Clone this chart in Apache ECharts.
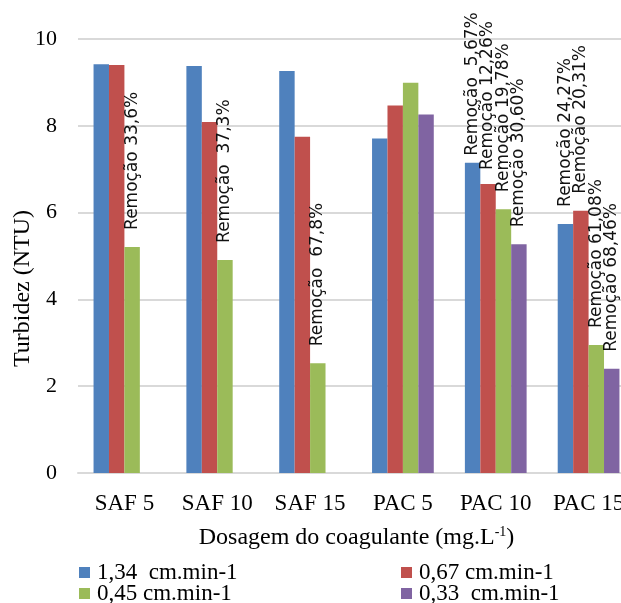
<!DOCTYPE html>
<html><head><meta charset="utf-8">
<script src="https://cdn.jsdelivr.net/npm/echarts@6/dist/echarts.min.js"></script>
<style>html,body{margin:0;padding:0;background:#fff}#c{width:621px;height:603px}</style>
</head><body><div id="c"></div>
<script>
const categories = ['SAF 5', 'SAF 10', 'SAF 15', 'PAC 5', 'PAC 10', 'PAC 15'];
const seriesNames = ['1,34  cm.min-1', '0,67 cm.min-1', '0,45 cm.min-1', '0,33  cm.min-1'];
const v134 = [9.42, 9.38, 9.26, 7.71, 7.15, 5.74];
const v067 = [9.40, 8.09, 7.75, 8.47, 6.66, 6.04];
const v045 = [5.21, 4.91, 2.53, 8.99, 6.08, 2.95];
const v033 = [null, null, null, 8.26, 5.27, 2.40];
const lab134 = ['', '', '', '', 'Remoção  5,67%', 'Remoção 24,27%'];
const lab067 = ['', '', '', '', 'Remoção 12,26%', 'Remoção 20,31%'];
const lab045 = ['Remoção 33,6%', 'Remoção  37,3%', 'Remoção  67,8%', '', 'Remoção 19,78%', 'Remoção 61,08%'];
const lab033 = ['', '', '', '', 'Remoção 30,60%', 'Remoção 68,46%'];
const yTicks = [0, 2, 4, 6, 8, 10];

const colors = ['#4F81BD', '#C0504D', '#9BBB59', '#8064A2'];
const serif = 'Liberation Serif, Times New Roman, serif';
const sans = 'DejaVu Sans, sans-serif';
// label offset tweaks (style only), keyed by series index / category index
const labelDistance = { '0-4': 7, '1-4': 14 };

function mk(si, vals, labs) {
  return {
    name: seriesNames[si], type: 'bar', barGap: '0%', barCategoryGap: '33.5%',
    itemStyle: { color: colors[si] },
    data: vals.map(function (v, i) {
      const d = labelDistance[si + '-' + i];
      const lab = { show: !!labs[i], formatter: labs[i] || '' };
      if (d !== undefined) lab.distance = d;
      return { value: v, label: lab };
    }),
    label: {
      position: 'top', rotate: 90, align: 'left', verticalAlign: 'middle',
      distance: 17, color: '#111', fontFamily: sans, fontSize: 17
    }
  };
}

function leg(name, left, top) {
  return {
    orient: 'horizontal', left: left, top: top, padding: 0,
    itemWidth: 11, itemHeight: 11, itemGap: 0,
    icon: 'rect', data: [name],
    textStyle: { color: '#000', fontFamily: serif, fontSize: 23, lineHeight: 22, padding: [0, 0, 0, 2] }
  };
}

const chart = echarts.init(document.getElementById('c'), null, { renderer: 'canvas' });
chart.setOption({
  animation: false,
  grid: { left: 78, top: 39, width: 557, height: 434, outerBoundsMode: 'none', containLabel: false },
  xAxis: {
    type: 'category', data: categories,
    axisLine: { lineStyle: { color: '#D9D9D9', width: 2 } },
    axisTick: { show: false },
    axisLabel: { color: '#000', fontFamily: serif, fontSize: 23, margin: 19 },
    name: 'Dosagem do coagulante (mg.L{sup|-1})',
    nameLocation: 'middle', nameGap: 52,
    nameTextStyle: {
      color: '#000', fontFamily: serif, fontSize: 24,
      rich: { sup: { fontFamily: serif, fontSize: 14, padding: [0, 0, 11, 0], color: '#000' } }
    }
  },
  yAxis: {
    type: 'value', min: yTicks[0], max: yTicks[yTicks.length - 1], interval: 2,
    axisLine: { show: false }, axisTick: { show: false },
    splitLine: { lineStyle: { color: '#D9D9D9', width: 2 } },
    axisLabel: { color: '#000', fontFamily: serif, fontSize: 22, margin: 21 }
  },
  graphic: [{
    type: 'text', left: 11, top: 210, rotation: Math.PI / 2,
    style: { text: 'Turbidez (NTU)', fill: '#000', font: '24px ' + serif }
  }],
  legend: [
    leg(seriesNames[0], 79, 561),
    leg(seriesNames[2], 79, 582),
    leg(seriesNames[1], 401, 561),
    leg(seriesNames[3], 401, 582)
  ],
  series: [mk(0, v134, lab134), mk(1, v067, lab067), mk(2, v045, lab045), mk(3, v033, lab033)]
});
</script></body></html>
